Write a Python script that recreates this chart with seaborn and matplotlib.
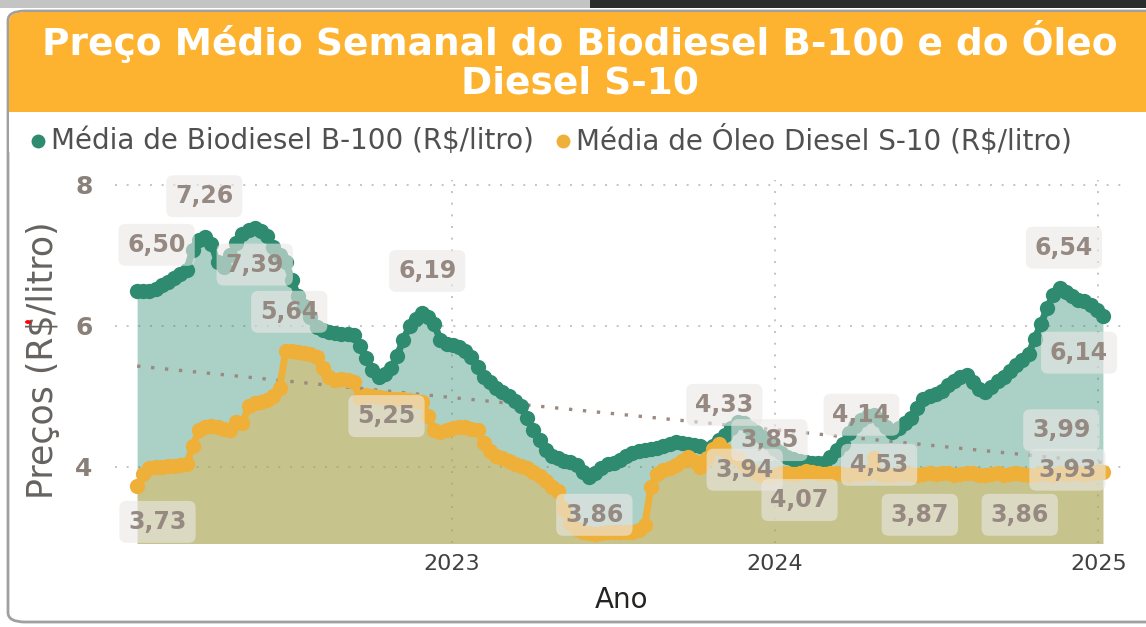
import pandas as pd
import numpy as np
import matplotlib
matplotlib.use("Agg")
import matplotlib.pyplot as plt
import matplotlib.dates as mdates
from matplotlib.patches import FancyBboxPatch, Rectangle, Circle
from matplotlib.lines import Line2D
import seaborn as sns

# weekly prices (R$/litro), first week 2022-01-10
start_week = "2022-01-10"

biodiesel = [
    6.50, 6.49, 6.50, 6.53, 6.58, 6.62, 6.68, 6.74, 6.80, 7.08,
    7.22, 7.26, 7.16, 6.90, 6.84, 7.00, 7.18, 7.30, 7.36, 7.39,
    7.35, 7.27, 7.12, 7.00, 6.90, 6.65, 6.42, 6.28, 6.12, 5.98,
    5.94, 5.92, 5.90, 5.89, 5.88, 5.87, 5.72, 5.55, 5.38, 5.27,
    5.32, 5.40, 5.58, 5.80, 6.00, 6.10, 6.19, 6.13, 6.02, 5.80,
    5.75, 5.73, 5.70, 5.64, 5.56, 5.42, 5.28, 5.20, 5.12, 5.06,
    5.00, 4.94, 4.86, 4.70, 4.52, 4.38, 4.24, 4.16, 4.12, 4.09,
    4.07, 4.02, 3.93, 3.86, 3.92, 3.99, 4.04, 4.06, 4.10, 4.15,
    4.19, 4.22, 4.24, 4.25, 4.27, 4.30, 4.33, 4.35, 4.34, 4.33,
    4.31, 4.29, 4.25, 4.30, 4.38, 4.45, 4.55, 4.64, 4.62, 4.55,
    4.50, 4.42, 4.34, 4.26, 4.19, 4.14, 4.11, 4.09, 4.07, 4.06,
    4.05, 4.06, 4.14, 4.24, 4.32, 4.48, 4.58, 4.66, 4.72, 4.74,
    4.66, 4.56, 4.50, 4.55, 4.62, 4.70, 4.84, 4.96, 5.00, 5.04,
    5.08, 5.16, 5.22, 5.27, 5.30, 5.20, 5.10, 5.06, 5.14, 5.22,
    5.28, 5.36, 5.44, 5.52, 5.60, 5.82, 6.02, 6.26, 6.44, 6.54,
    6.48, 6.42, 6.37, 6.35, 6.30, 6.22, 6.14,
]

diesel = [
    3.73, 3.90, 3.98, 4.00, 4.00, 4.01, 4.01, 4.02, 4.04, 4.30,
    4.52, 4.56, 4.58, 4.56, 4.54, 4.52, 4.64, 4.62, 4.86, 4.90,
    4.92, 4.95, 5.00, 5.12, 5.64, 5.64, 5.63, 5.62, 5.60, 5.56,
    5.40, 5.28, 5.23, 5.24, 5.23, 5.20, 4.98, 5.02, 5.00, 4.99,
    4.98, 4.97, 4.96, 4.96, 4.95, 4.94, 4.92, 4.72, 4.52, 4.50,
    4.52, 4.55, 4.57, 4.56, 4.54, 4.52, 4.34, 4.22, 4.16, 4.12,
    4.08, 4.04, 4.01, 3.98, 3.93, 3.87, 3.80, 3.72, 3.66, 3.40,
    3.20, 3.12, 3.08, 3.06, 3.05, 3.06, 3.07, 3.07, 3.08, 3.08,
    3.07, 3.10, 3.18, 3.72, 3.90, 3.96, 3.98, 4.02, 4.08, 4.14,
    4.08, 4.00, 4.12, 4.26, 4.33, 4.24, 4.16, 4.12, 4.04, 3.97,
    3.92, 3.87, 3.86, 3.89, 3.91, 3.92, 3.90, 3.92, 3.94, 3.93,
    3.92, 3.90, 3.91, 3.92, 3.90, 3.89, 3.91, 3.90, 3.92, 4.12,
    3.90, 3.88, 3.89, 3.90, 3.91, 3.90, 3.89, 3.90, 3.91, 3.90,
    3.92, 3.91, 3.89, 3.90, 3.92, 3.91, 3.89, 3.88, 3.90, 3.91,
    3.89, 3.90, 3.92, 3.90, 3.88, 3.89, 3.91, 3.90, 3.89, 3.91,
    3.90, 3.92, 3.91, 3.90, 3.92, 3.93, 3.93,
]

# data labels shown on the chart: text, date, y position
label_texts = ["6,50", "7,26", "7,39", "5,64", "5,25", "6,19", "3,86", "4,33", "3,85", "3,94",
               "4,07", "4,14", "4,53", "3,87", "3,86", "3,99", "3,93", "6,54", "6,14", "3,73"]
label_dates = ["2022-02-01", "2022-03-27", "2022-05-23", "2022-07-01", "2022-10-19", "2022-12-04",
               "2023-06-11", "2023-11-05", "2023-12-26", "2023-11-28", "2024-01-29", "2024-04-08",
               "2024-04-28", "2024-06-13", "2024-10-04", "2024-11-20", "2024-11-27", "2024-11-23",
               "2024-12-10", "2022-02-02"]
label_y = [7.15, 7.84, 6.87, 6.20, 4.72, 6.78, 3.32, 4.88, 4.38, 3.96,
           3.53, 4.74, 4.03, 3.32, 3.32, 4.52, 3.96, 7.11, 5.62, 3.22]

year_ticks = ["2023-01-01", "2024-01-01", "2025-01-01"]
year_labels = ["2023", "2024", "2025"]

GREEN = "#2E8B6F"
ORANGE = "#EFB03A"
TITLE_BG = "#FDB32F"
LABEL_COL = "#958982"

df = pd.DataFrame({
    "semana": pd.date_range(start_week, periods=len(biodiesel), freq="7D"),
    "biodiesel": biodiesel,
    "diesel": diesel,
})

sns.set_style("white")
plt.rcParams["font.family"] = ["DejaVu Sans"]

W, H = 1146, 627
fig = plt.figure(figsize=(W / 100, H / 100), dpi=100)
fig.patch.set_facecolor("white")


def fx(px):
    return px / W


def fy(py):
    return 1 - py / H


# card frame and title bar
fig.add_artist(Rectangle((0, fy(8)), fx(590), 8 / H, transform=fig.transFigure,
                         facecolor="#C4C4C4", edgecolor="none", zorder=0))
fig.add_artist(Rectangle((fx(590), fy(8)), 1, 8 / H, transform=fig.transFigure,
                         facecolor="#2B2B2B", edgecolor="none", zorder=0))
fig.add_artist(FancyBboxPatch((fx(8), fy(622)), fx(1160), (622 - 11) / H,
                              boxstyle="round,pad=0,rounding_size=0.015",
                              transform=fig.transFigure, facecolor="white",
                              edgecolor="#A0A0A0", linewidth=2, zorder=1))
fig.add_artist(FancyBboxPatch((fx(9), fy(150)), fx(1160), (150 - 12) / H,
                              boxstyle="round,pad=0,rounding_size=0.015",
                              transform=fig.transFigure, facecolor=TITLE_BG,
                              edgecolor="none", zorder=2))
fig.add_artist(Rectangle((fx(9), fy(152)), 1, 40 / H, transform=fig.transFigure,
                         facecolor="white", edgecolor="none", zorder=3))
fig.text(fx(580), fy(61), "Preço Médio Semanal do Biodiesel B-100 e do Óleo\nDiesel S-10",
         ha="center", va="center", color="white", fontsize=27, fontweight="bold",
         linespacing=1.08, zorder=4)

# legend
for cx, tx, col, txt in [(38, 51, GREEN, "Média de Biodiesel B-100 (R$/litro)"),
                         (563, 576, ORANGE, "Média de Óleo Diesel S-10 (R$/litro)")]:
    fig.add_artist(Line2D([fx(cx)], [fy(141)], transform=fig.transFigure, marker="o",
                          markersize=10, color=col, markeredgewidth=0, zorder=4))
    fig.text(fx(tx), fy(141), txt, ha="left", va="center", fontsize=20,
             color="#505050", zorder=4)

ax = fig.add_axes([fx(115), fy(543), fx(1125 - 115), (543 - 180) / H])
ax.set_zorder(5)
ax.patch.set_alpha(0)

x = df["semana"]
ax.fill_between(x, df["biodiesel"], 0, color=GREEN, alpha=0.4, linewidth=0, zorder=1)
ax.fill_between(x, df["diesel"], 0, color=ORANGE, alpha=0.4, linewidth=0, zorder=2)

sns.lineplot(data=df, x="semana", y="biodiesel", color=GREEN, marker="o", markersize=11,
             markeredgewidth=0, linewidth=5, ax=ax, zorder=4)
sns.lineplot(data=df, x="semana", y="diesel", color=ORANGE, marker="o", markersize=11,
             markeredgewidth=0, linewidth=5, ax=ax, zorder=5)

# linear trend over both series
xnum = mdates.date2num(df["semana"])
sns.regplot(x=np.concatenate([xnum, xnum]), y=np.concatenate([biodiesel, diesel]),
            scatter=False, ci=None, ax=ax,
            line_kws=dict(color="#9A8A80", linestyle=(0, (1, 3.2)), linewidth=2.4, zorder=3))

# data labels
for txt, d, yv in zip(label_texts, label_dates, label_y):
    ax.text(pd.Timestamp(d), yv, txt, ha="center", va="center", fontsize=17,
            fontweight="bold", color=LABEL_COL, zorder=6,
            bbox=dict(boxstyle="round,pad=0.38,rounding_size=0.3",
                      facecolor="#EBE9E7", edgecolor="none", alpha=0.6))

ax.set_ylim(2.92, 8.07)
ax.set_xlim(pd.Timestamp("2021-12-16"), pd.Timestamp("2025-01-31"))
ax.set_yticks([4, 6, 8])
ax.set_yticklabels(["4", "6", "8"], fontsize=18, fontweight="bold", color="#8A807A")
ax.set_xticks(pd.to_datetime(year_ticks))
ax.set_xticklabels(year_labels, fontsize=16, color="#404040")
ax.tick_params(axis="y", length=0, pad=16)
ax.tick_params(axis="x", length=0, pad=8)
ax.set_xlabel("")
ax.set_ylabel("")
for s in ax.spines.values():
    s.set_visible(False)
ax.grid(True, color="#C4C4C4", linestyle=(0, (1, 5)), linewidth=1.4)
ax.set_axisbelow(True)

fig.text(fx(43), fy(360), "Preços (R$/litro)", rotation=90, ha="center", va="center",
         fontsize=25, color="#666260", zorder=4)
fig.add_artist(Circle((fx(28), fy(322)), 2.2 / W, transform=fig.transFigure,
                      color="red", zorder=6))
fig.text(fx(622), fy(600), "Ano", ha="center", va="center", fontsize=20,
         color="#252423", zorder=4)

fig.savefig("out.png", dpi=100)
